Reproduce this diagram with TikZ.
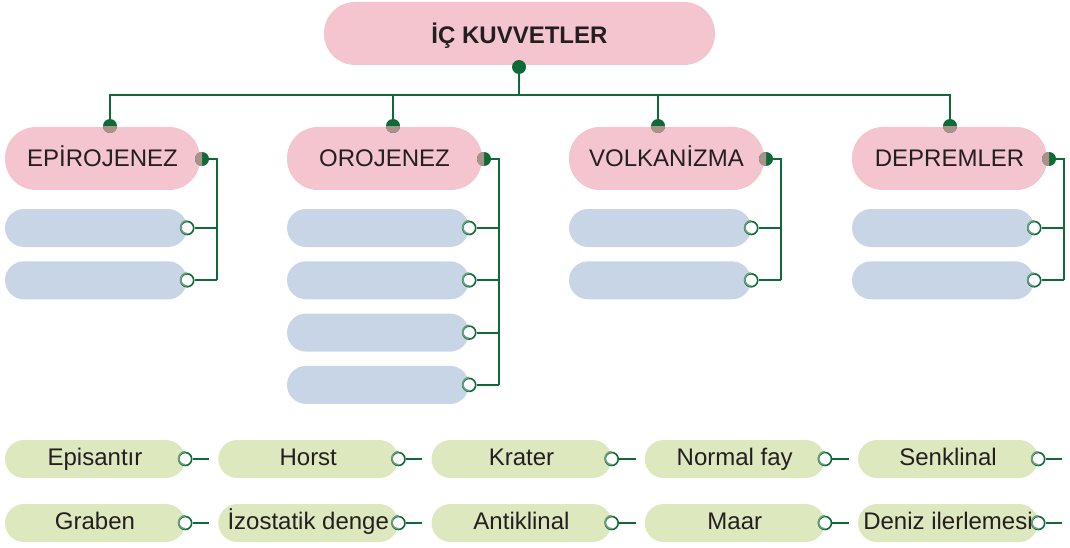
\documentclass[tikz,border=0pt]{standalone}
\usepackage{fontspec}
\setmainfont{Liberation Sans}
\usetikzlibrary{positioning,calc}
\definecolor{rootpink}{RGB}{244,197,206}
\definecolor{blankblue}{RGB}{200,213,230}
\definecolor{termgreen}{RGB}{222,232,190}
\definecolor{linegreen}{RGB}{14,107,56}
\definecolor{dotmix}{RGB}{168,146,138}
\definecolor{ringmix}{RGB}{104,160,124}
\definecolor{textgray}{RGB}{35,31,32}

\begin{document}
\begin{tikzpicture}[x=1pt,y=-1pt,
  every node/.style={text=textgray,font=\fontsize{24}{28}\selectfont},
  root node/.style={rectangle,rounded corners=31pt,fill=rootpink,minimum width=391pt,minimum height=63pt,text height=22pt,text depth=1pt,font=\fontsize{24}{28}\selectfont\bfseries},
  topic node/.style={rectangle,rounded corners=31pt,fill=rootpink,minimum width=195pt,minimum height=63pt,text height=19pt,text depth=2pt},
  blank node/.style={rectangle,rounded corners=19pt,fill=blankblue,minimum width=182pt,minimum height=38pt},
  term node/.style={rectangle,rounded corners=19pt,fill=termgreen,minimum width=180pt,minimum height=38pt,inner sep=0pt,text height=15pt,text depth=3pt},
  dot node/.style={circle,fill=linegreen,inner sep=0pt,minimum size=14pt},
  ring node/.style={circle,draw=linegreen,fill=white,line width=1.6pt,inner sep=0pt,minimum size=13pt},
  link/.style={draw=linegreen,line width=1.8pt},
  tail/.style={draw=linegreen,line width=2.6pt}]

  \useasboundingbox (0,0) rectangle (1070,548);

  % root and bus
  \node[root node] (root) at (519.5,33.5) {İÇ KUVVETLER};
  \node[dot node] (rootdot) at (519,67) {};
  \coordinate (bus) at (519,95);
  \draw[link,line width=2.6pt] (rootdot) -- (bus);

  % four branches
  \foreach \name/\left/\dotx/\n/\label in {epi/5/110/2/EPİROJENEZ, oro/287/393/4/OROJENEZ, vol/569/658/2/VOLKANİZMA, dep/852/950/2/DEPREMLER} {
    \node[topic node] (\name) at (\left+97.5,158.5) {\label};
    \node[dot node] (\name T) at (\dotx,126) {};
    \node[dot node] (\name R) at (\left+197,159) {};
    \begin{scope}
      \clip (\name.south west) rectangle (\name R.center |- \name.north);
      \fill[dotmix] (\name T.center) circle[radius=7pt];
      \fill[dotmix] (\name R.center) circle[radius=7pt];
    \end{scope}
    \draw[link] (bus) -| (\name T);
    \coordinate (\name spine) at (\left+212,{228+52.3*(\n-1)});
    \draw[link] (\name R) -| (\name spine);
    \foreach \i in {1,...,\n} {
      \node[blank node] (\name\i) at (\left+91,{228+52.3*(\i-1)}) {};
      \node[ring node] (\name ring\i) at (\name\i.east) {};
      \draw[ringmix,line width=1.6pt] (\name ring\i.north) arc[start angle=90,end angle=270,radius=6.5pt];
      \draw[link] (\name ring\i) -- (\name ring\i -| \name spine);
    }
  }

  % answer terms
  \foreach \tA/\tB [count=\k from 0] in {Episantır/Graben, Horst/İzostatik denge, Krater/Antiklinal, Normal fay/Maar, Senklinal/Deniz ilerlemesi} {
    \node[term node] (term\k a) at ({95+213.25*\k},459) {\tA};
    \node[term node] (term\k b) at ({95+213.25*\k},523) {\tB};
    \foreach \r in {a,b} {
      \node[ring node] (ring\k\r) at (term\k\r.east) {};
      \draw[ringmix,line width=1.6pt] (ring\k\r.north) arc[start angle=90,end angle=270,radius=6.5pt];
      \coordinate (tail\k\r) at ($(term\k\r.east)+(24,0)$);
      \draw[tail] (ring\k\r) -- (tail\k\r);
    }
  }

\end{tikzpicture}
\end{document}
